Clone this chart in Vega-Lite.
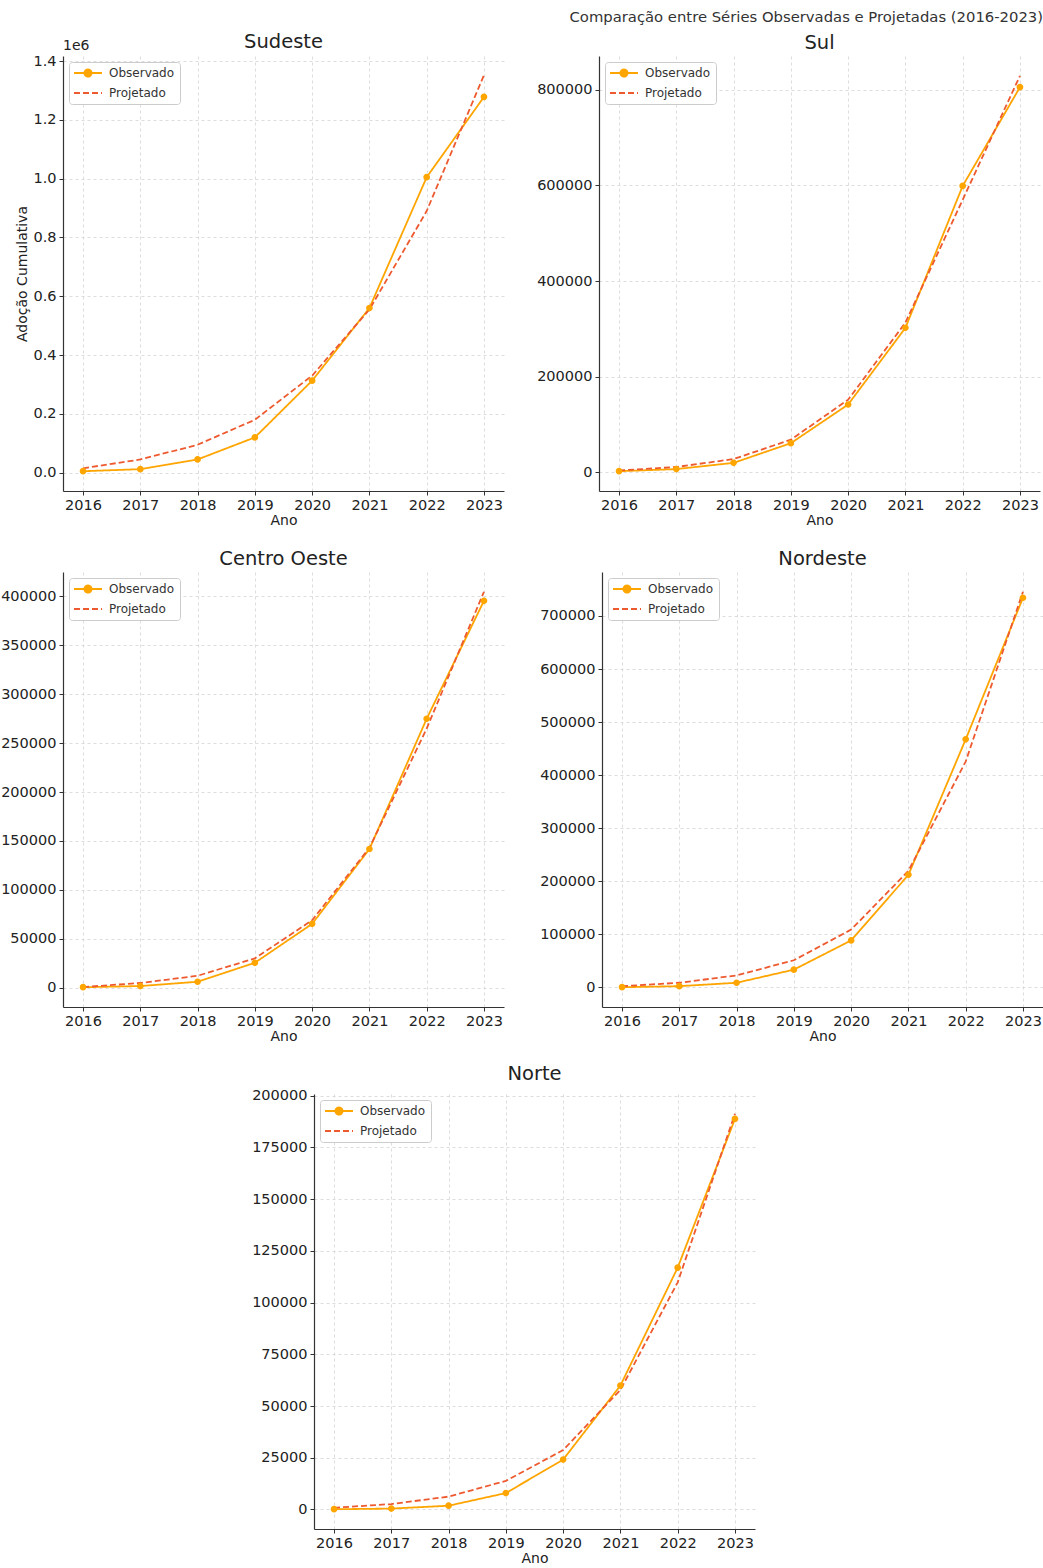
{
  "$schema": "https://vega.github.io/schema/vega-lite/v6.json",
  "background": "white",
  "padding": {"left": 0, "right": 2, "top": 9, "bottom": 0},
  "title": {"text": "Comparação entre Séries Observadas e Projetadas (2016-2023)", "anchor": "end", "fontSize": 14.8, "fontWeight": "normal", "font": "DejaVu Sans", "color": "#333333", "offset": 7},
  "datasets": {
    "adocao": [
      {"regiao": "Sudeste", "ano": 2016, "serie": "Observado", "valor": 5000},
      {"regiao": "Sudeste", "ano": 2017, "serie": "Observado", "valor": 12000},
      {"regiao": "Sudeste", "ano": 2018, "serie": "Observado", "valor": 45000},
      {"regiao": "Sudeste", "ano": 2019, "serie": "Observado", "valor": 120000},
      {"regiao": "Sudeste", "ano": 2020, "serie": "Observado", "valor": 313000},
      {"regiao": "Sudeste", "ano": 2021, "serie": "Observado", "valor": 560000},
      {"regiao": "Sudeste", "ano": 2022, "serie": "Observado", "valor": 1005000},
      {"regiao": "Sudeste", "ano": 2023, "serie": "Observado", "valor": 1278000},
      {"regiao": "Sudeste", "ano": 2016, "serie": "Projetado", "valor": 15000},
      {"regiao": "Sudeste", "ano": 2017, "serie": "Projetado", "valor": 45000},
      {"regiao": "Sudeste", "ano": 2018, "serie": "Projetado", "valor": 95000},
      {"regiao": "Sudeste", "ano": 2019, "serie": "Projetado", "valor": 180000},
      {"regiao": "Sudeste", "ano": 2020, "serie": "Projetado", "valor": 330000},
      {"regiao": "Sudeste", "ano": 2021, "serie": "Projetado", "valor": 555000},
      {"regiao": "Sudeste", "ano": 2022, "serie": "Projetado", "valor": 890000},
      {"regiao": "Sudeste", "ano": 2023, "serie": "Projetado", "valor": 1352000},
      {"regiao": "Sul", "ano": 2016, "serie": "Observado", "valor": 2000},
      {"regiao": "Sul", "ano": 2017, "serie": "Observado", "valor": 6500},
      {"regiao": "Sul", "ano": 2018, "serie": "Observado", "valor": 19500},
      {"regiao": "Sul", "ano": 2019, "serie": "Observado", "valor": 60700},
      {"regiao": "Sul", "ano": 2020, "serie": "Observado", "valor": 141600},
      {"regiao": "Sul", "ano": 2021, "serie": "Observado", "valor": 302000},
      {"regiao": "Sul", "ano": 2022, "serie": "Observado", "valor": 599000},
      {"regiao": "Sul", "ano": 2023, "serie": "Observado", "valor": 805600},
      {"regiao": "Sul", "ano": 2016, "serie": "Projetado", "valor": 3600},
      {"regiao": "Sul", "ano": 2017, "serie": "Projetado", "valor": 10800},
      {"regiao": "Sul", "ano": 2018, "serie": "Projetado", "valor": 27500},
      {"regiao": "Sul", "ano": 2019, "serie": "Projetado", "valor": 68000},
      {"regiao": "Sul", "ano": 2020, "serie": "Projetado", "valor": 151700},
      {"regiao": "Sul", "ano": 2021, "serie": "Projetado", "valor": 313000},
      {"regiao": "Sul", "ano": 2022, "serie": "Projetado", "valor": 570000},
      {"regiao": "Sul", "ano": 2023, "serie": "Projetado", "valor": 829500},
      {"regiao": "Centro Oeste", "ano": 2016, "serie": "Observado", "valor": 500},
      {"regiao": "Centro Oeste", "ano": 2017, "serie": "Observado", "valor": 1700},
      {"regiao": "Centro Oeste", "ano": 2018, "serie": "Observado", "valor": 6100},
      {"regiao": "Centro Oeste", "ano": 2019, "serie": "Observado", "valor": 25500},
      {"regiao": "Centro Oeste", "ano": 2020, "serie": "Observado", "valor": 65300},
      {"regiao": "Centro Oeste", "ano": 2021, "serie": "Observado", "valor": 141800},
      {"regiao": "Centro Oeste", "ano": 2022, "serie": "Observado", "valor": 275000},
      {"regiao": "Centro Oeste", "ano": 2023, "serie": "Observado", "valor": 395600},
      {"regiao": "Centro Oeste", "ano": 2016, "serie": "Projetado", "valor": 700},
      {"regiao": "Centro Oeste", "ano": 2017, "serie": "Projetado", "valor": 4800},
      {"regiao": "Centro Oeste", "ano": 2018, "serie": "Projetado", "valor": 12200},
      {"regiao": "Centro Oeste", "ano": 2019, "serie": "Projetado", "valor": 30000},
      {"regiao": "Centro Oeste", "ano": 2020, "serie": "Projetado", "valor": 69000},
      {"regiao": "Centro Oeste", "ano": 2021, "serie": "Projetado", "valor": 142900},
      {"regiao": "Centro Oeste", "ano": 2022, "serie": "Projetado", "valor": 265000},
      {"regiao": "Centro Oeste", "ano": 2023, "serie": "Projetado", "valor": 404800},
      {"regiao": "Nordeste", "ano": 2016, "serie": "Observado", "valor": 500},
      {"regiao": "Nordeste", "ano": 2017, "serie": "Observado", "valor": 2500},
      {"regiao": "Nordeste", "ano": 2018, "serie": "Observado", "valor": 8900},
      {"regiao": "Nordeste", "ano": 2019, "serie": "Observado", "valor": 33600},
      {"regiao": "Nordeste", "ano": 2020, "serie": "Observado", "valor": 88700},
      {"regiao": "Nordeste", "ano": 2021, "serie": "Observado", "valor": 212200},
      {"regiao": "Nordeste", "ano": 2022, "serie": "Observado", "valor": 467500},
      {"regiao": "Nordeste", "ano": 2023, "serie": "Observado", "valor": 734200},
      {"regiao": "Nordeste", "ano": 2016, "serie": "Projetado", "valor": 2500},
      {"regiao": "Nordeste", "ano": 2017, "serie": "Projetado", "valor": 8900},
      {"regiao": "Nordeste", "ano": 2018, "serie": "Projetado", "valor": 22800},
      {"regiao": "Nordeste", "ano": 2019, "serie": "Projetado", "valor": 51300},
      {"regiao": "Nordeste", "ano": 2020, "serie": "Projetado", "valor": 109000},
      {"regiao": "Nordeste", "ano": 2021, "serie": "Projetado", "valor": 219800},
      {"regiao": "Nordeste", "ano": 2022, "serie": "Projetado", "valor": 425700},
      {"regiao": "Nordeste", "ano": 2023, "serie": "Projetado", "valor": 745600},
      {"regiao": "Norte", "ano": 2016, "serie": "Observado", "valor": 100},
      {"regiao": "Norte", "ano": 2017, "serie": "Observado", "valor": 400},
      {"regiao": "Norte", "ano": 2018, "serie": "Observado", "valor": 1800},
      {"regiao": "Norte", "ano": 2019, "serie": "Observado", "valor": 7900},
      {"regiao": "Norte", "ano": 2020, "serie": "Observado", "valor": 24100},
      {"regiao": "Norte", "ano": 2021, "serie": "Observado", "valor": 59900},
      {"regiao": "Norte", "ano": 2022, "serie": "Observado", "valor": 116900},
      {"regiao": "Norte", "ano": 2023, "serie": "Observado", "valor": 188800},
      {"regiao": "Norte", "ano": 2016, "serie": "Projetado", "valor": 800},
      {"regiao": "Norte", "ano": 2017, "serie": "Projetado", "valor": 2600},
      {"regiao": "Norte", "ano": 2018, "serie": "Projetado", "valor": 6200},
      {"regiao": "Norte", "ano": 2019, "serie": "Projetado", "valor": 13800},
      {"regiao": "Norte", "ano": 2020, "serie": "Projetado", "valor": 28700},
      {"regiao": "Norte", "ano": 2021, "serie": "Projetado", "valor": 57800},
      {"regiao": "Norte", "ano": 2022, "serie": "Projetado", "valor": 109800},
      {"regiao": "Norte", "ano": 2023, "serie": "Projetado", "valor": 191300}
    ],
    "rotulo": [{"texto": "1e6", "ano": 2015.65, "valor": 1417250}],
    "vazio": []
  },
  "data": {"name": "adocao"},
  "vconcat": [
    {
      "hconcat": [
        {
          "title": {"text": "Sudeste", "offset": -13},
          "width": 441, "height": 435,
          "layer": [
            {
              "transform": [{"filter": "datum.regiao === 'Sudeste'"}],
              "mark": {"type": "line", "strokeWidth": 1.8},
              "encoding": {
                "x": {"field": "ano", "type": "quantitative", "scale": {"domain": [2015.65, 2023.35], "nice": false, "zero": false}, "axis": {"values": [2016, 2017, 2018, 2019, 2020, 2021, 2022, 2023], "format": "d", "title": "Ano"}},
                "y": {"field": "valor", "type": "quantitative", "scale": {"domain": [-62250, 1417250], "nice": false, "zero": false}, "axis": {"values": [0, 200000, 400000, 600000, 800000, 1000000, 1200000, 1400000], "labelExpr": "format(datum.value / 1000000, '.1f')", "title": "Adoção Cumulativa", "titlePadding": 3}},
                "color": {"field": "serie", "type": "nominal", "scale": {"domain": ["Observado", "Projetado"], "range": ["#FFA500", "#EE5A2F"]}, "legend": {"title": null}},
                "strokeDash": {"field": "serie", "type": "nominal", "scale": {"domain": ["Observado", "Projetado"], "range": [[1, 0], [6, 3]]}, "legend": {"title": null}}
              }
            },
            {
              "transform": [{"filter": "datum.regiao === 'Sudeste' && datum.serie === 'Observado'"}],
              "mark": {"type": "point", "filled": true, "size": 45, "opacity": 1},
              "encoding": {
                "x": {"field": "ano", "type": "quantitative"},
                "y": {"field": "valor", "type": "quantitative"},
                "color": {"field": "serie", "type": "nominal", "legend": {"title": null}},
                "shape": {"field": "serie", "type": "nominal", "scale": {"domain": ["Observado", "Projetado"], "range": ["M-4,0H4M1,0A1,1 0 1 1 -1,0A1,1 0 1 1 1,0", "M-4,0H4"]}, "legend": {"title": null}}
              }
            },
            {
              "data": {"name": "rotulo"},
              "mark": {"type": "text", "align": "left", "baseline": "bottom", "dy": -3, "fontSize": 14, "font": "DejaVu Sans", "color": "#222222"},
              "encoding": {
                "x": {"field": "ano", "type": "quantitative"},
                "y": {"field": "valor", "type": "quantitative"},
                "text": {"field": "texto"}
              }
            }
          ]
        },
        {
          "title": "Sul",
          "width": 441, "height": 435,
          "transform": [{"filter": "datum.regiao === 'Sul'"}],
          "layer": [
            {
              "mark": {"type": "line", "strokeWidth": 1.8},
              "encoding": {
                "x": {"field": "ano", "type": "quantitative", "scale": {"domain": [2015.65, 2023.35], "nice": false, "zero": false}, "axis": {"values": [2016, 2017, 2018, 2019, 2020, 2021, 2022, 2023], "format": "d", "title": "Ano"}},
                "y": {"field": "valor", "type": "quantitative", "scale": {"domain": [-39375, 870875], "nice": false, "zero": false}, "axis": {"values": [0, 200000, 400000, 600000, 800000], "format": "d", "title": null}},
                "color": {"field": "serie", "type": "nominal", "scale": {"domain": ["Observado", "Projetado"], "range": ["#FFA500", "#EE5A2F"]}, "legend": {"title": null}},
                "strokeDash": {"field": "serie", "type": "nominal", "scale": {"domain": ["Observado", "Projetado"], "range": [[1, 0], [6, 3]]}, "legend": {"title": null}}
              }
            },
            {
              "transform": [{"filter": "datum.serie === 'Observado'"}],
              "mark": {"type": "point", "filled": true, "size": 45, "opacity": 1},
              "encoding": {
                "x": {"field": "ano", "type": "quantitative"},
                "y": {"field": "valor", "type": "quantitative"},
                "color": {"field": "serie", "type": "nominal", "legend": {"title": null}},
                "shape": {"field": "serie", "type": "nominal", "scale": {"domain": ["Observado", "Projetado"], "range": ["M-4,0H4M1,0A1,1 0 1 1 -1,0A1,1 0 1 1 1,0", "M-4,0H4"]}, "legend": {"title": null}}
              }
            }
          ]
        }
      ],
      "spacing": 32,
      "resolve": {"legend": {"color": "independent", "strokeDash": "independent", "shape": "independent"}, "scale": {"color": "independent", "strokeDash": "independent", "shape": "independent"}}
    },
    {
      "hconcat": [
        {
          "title": "Centro Oeste",
          "width": 441, "height": 435,
          "transform": [{"filter": "datum.regiao === 'Centro Oeste'"}],
          "layer": [
            {
              "mark": {"type": "line", "strokeWidth": 1.8},
              "encoding": {
                "x": {"field": "ano", "type": "quantitative", "scale": {"domain": [2015.65, 2023.35], "nice": false, "zero": false}, "axis": {"values": [2016, 2017, 2018, 2019, 2020, 2021, 2022, 2023], "format": "d", "title": "Ano"}},
                "y": {"field": "valor", "type": "quantitative", "scale": {"domain": [-19715, 425015], "nice": false, "zero": false}, "axis": {"values": [0, 50000, 100000, 150000, 200000, 250000, 300000, 350000, 400000], "format": "d", "title": null}},
                "color": {"field": "serie", "type": "nominal", "scale": {"domain": ["Observado", "Projetado"], "range": ["#FFA500", "#EE5A2F"]}, "legend": {"title": null}},
                "strokeDash": {"field": "serie", "type": "nominal", "scale": {"domain": ["Observado", "Projetado"], "range": [[1, 0], [6, 3]]}, "legend": {"title": null}}
              }
            },
            {
              "transform": [{"filter": "datum.serie === 'Observado'"}],
              "mark": {"type": "point", "filled": true, "size": 45, "opacity": 1},
              "encoding": {
                "x": {"field": "ano", "type": "quantitative"},
                "y": {"field": "valor", "type": "quantitative"},
                "color": {"field": "serie", "type": "nominal", "legend": {"title": null}},
                "shape": {"field": "serie", "type": "nominal", "scale": {"domain": ["Observado", "Projetado"], "range": ["M-4,0H4M1,0A1,1 0 1 1 -1,0A1,1 0 1 1 1,0", "M-4,0H4"]}, "legend": {"title": null}}
              }
            }
          ]
        },
        {
          "title": "Nordeste",
          "width": 441, "height": 435,
          "transform": [{"filter": "datum.regiao === 'Nordeste'"}],
          "layer": [
            {
              "mark": {"type": "line", "strokeWidth": 1.8},
              "encoding": {
                "x": {"field": "ano", "type": "quantitative", "scale": {"domain": [2015.65, 2023.35], "nice": false, "zero": false}, "axis": {"values": [2016, 2017, 2018, 2019, 2020, 2021, 2022, 2023], "format": "d", "title": "Ano"}},
                "y": {"field": "valor", "type": "quantitative", "scale": {"domain": [-36755, 782855], "nice": false, "zero": false}, "axis": {"values": [0, 100000, 200000, 300000, 400000, 500000, 600000, 700000], "format": "d", "title": null}},
                "color": {"field": "serie", "type": "nominal", "scale": {"domain": ["Observado", "Projetado"], "range": ["#FFA500", "#EE5A2F"]}, "legend": {"title": null}},
                "strokeDash": {"field": "serie", "type": "nominal", "scale": {"domain": ["Observado", "Projetado"], "range": [[1, 0], [6, 3]]}, "legend": {"title": null}}
              }
            },
            {
              "transform": [{"filter": "datum.serie === 'Observado'"}],
              "mark": {"type": "point", "filled": true, "size": 45, "opacity": 1},
              "encoding": {
                "x": {"field": "ano", "type": "quantitative"},
                "y": {"field": "valor", "type": "quantitative"},
                "color": {"field": "serie", "type": "nominal", "legend": {"title": null}},
                "shape": {"field": "serie", "type": "nominal", "scale": {"domain": ["Observado", "Projetado"], "range": ["M-4,0H4M1,0A1,1 0 1 1 -1,0A1,1 0 1 1 1,0", "M-4,0H4"]}, "legend": {"title": null}}
              }
            }
          ]
        }
      ],
      "spacing": 35,
      "resolve": {"legend": {"color": "independent", "strokeDash": "independent", "shape": "independent"}, "scale": {"color": "independent", "strokeDash": "independent", "shape": "independent"}}
    },
    {
      "hconcat": [
        {
          "data": {"name": "vazio"},
          "width": 168, "height": 435,
          "mark": {"type": "point", "opacity": 0},
          "encoding": {}
        },
        {
          "title": "Norte",
          "width": 441, "height": 435,
          "transform": [{"filter": "datum.regiao === 'Norte'"}],
          "layer": [
            {
              "mark": {"type": "line", "strokeWidth": 1.8},
              "encoding": {
                "x": {"field": "ano", "type": "quantitative", "scale": {"domain": [2015.65, 2023.35], "nice": false, "zero": false}, "axis": {"values": [2016, 2017, 2018, 2019, 2020, 2021, 2022, 2023], "format": "d", "title": "Ano"}},
                "y": {"field": "valor", "type": "quantitative", "scale": {"domain": [-9460, 200860], "nice": false, "zero": false}, "axis": {"values": [0, 25000, 50000, 75000, 100000, 125000, 150000, 175000, 200000], "format": "d", "title": null}},
                "color": {"field": "serie", "type": "nominal", "scale": {"domain": ["Observado", "Projetado"], "range": ["#FFA500", "#EE5A2F"]}, "legend": {"title": null}},
                "strokeDash": {"field": "serie", "type": "nominal", "scale": {"domain": ["Observado", "Projetado"], "range": [[1, 0], [6, 3]]}, "legend": {"title": null}}
              }
            },
            {
              "transform": [{"filter": "datum.serie === 'Observado'"}],
              "mark": {"type": "point", "filled": true, "size": 45, "opacity": 1},
              "encoding": {
                "x": {"field": "ano", "type": "quantitative"},
                "y": {"field": "valor", "type": "quantitative"},
                "color": {"field": "serie", "type": "nominal", "legend": {"title": null}},
                "shape": {"field": "serie", "type": "nominal", "scale": {"domain": ["Observado", "Projetado"], "range": ["M-4,0H4M1,0A1,1 0 1 1 -1,0A1,1 0 1 1 1,0", "M-4,0H4"]}, "legend": {"title": null}}
              }
            }
          ]
        }
      ],
      "spacing": 20,
      "resolve": {"legend": {"color": "independent", "strokeDash": "independent", "shape": "independent"}, "scale": {"color": "independent", "strokeDash": "independent", "shape": "independent"}}
    }
  ],
  "spacing": 20,
  "resolve": {"legend": {"color": "independent", "strokeDash": "independent", "shape": "independent"}, "scale": {"color": "independent", "strokeDash": "independent", "shape": "independent"}},
  "config": {
    "font": "DejaVu Sans",
    "view": {"stroke": null},
    "title": {"fontSize": 19.5, "fontWeight": "normal", "font": "DejaVu Sans", "color": "#222222", "offset": 3},
    "axis": {
      "labelFont": "DejaVu Sans", "labelFontSize": 14.5, "labelColor": "#222222",
      "titleFont": "DejaVu Sans", "titleFontSize": 14, "titleFontWeight": "normal", "titleColor": "#222222",
      "domainColor": "#333333", "domainWidth": 1.2, "tickColor": "#333333", "tickSize": 4,
      "gridColor": "#d4d4d4", "gridDash": [3, 3], "gridWidth": 0.8, "labelPadding": 3, "titlePadding": 2
    },
    "legend": {
      "orient": "top-left", "offset": 6, "fillColor": "white", "strokeColor": "#cccccc", "padding": 5, "cornerRadius": 3,
      "labelFont": "DejaVu Sans", "labelFontSize": 12, "labelColor": "#333333",
      "symbolSize": 49, "symbolOffset": 8, "labelOffset": 15, "symbolStrokeWidth": 2, "rowPadding": 6
    }
  }
}
